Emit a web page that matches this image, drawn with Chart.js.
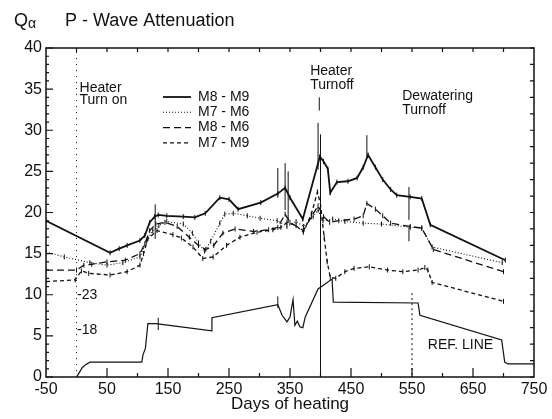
<!DOCTYPE html>
<html lang="en">
<head>
<meta charset="UTF-8">
<title>P - Wave Attenuation</title>
<script src="https://cdn.jsdelivr.net/npm/chart.js"></script>
<style>
  body { margin: 0; background: #fff; }
  #qChart { display: block; }
</style>
</head>
<body>
<canvas id="qChart" width="552" height="419"></canvas>
<script>
// [day of heating, Q alpha]
const m8m9 = [[-50,19.0],[55,15.1],[70,15.6],[83,16.0],[104,16.6],[112,17.2],[120,18.8],[128,19.5],[134,19.7],
  [148,19.6],[175,19.5],[194,19.4],[211,19.9],[235,21.8],[250,21.6],[265,20.4],[302,21.2],[330,22.3],[342,23.0],
  [350,21.8],[371,19.2],[399,26.8],[405,26.2],[412,25.3],[416,22.4],[427,23.7],[445,23.8],[460,24.2],[470,25.5],
  [478,27.0],[490,25.5],[502,24.0],[515,22.8],[525,22.1],[547,21.9],[566,21.7],[580,18.5],[703,14.2]];

const m7m6 = [[-50,15.2],[-20,14.6],[22,13.9],[50,13.6],[76,13.9],[104,14.6],[115,16.5],[125,17.8],[135,18.4],
  [148,18.9],[175,18.6],[190,17.5],[200,16.3],[210,15.3],[220,16.5],[235,18.7],[243,19.8],[257,19.9],[280,19.6],
  [301,19.3],[329,19.0],[345,18.3],[360,18.9],[372,18.3],[388,19.5],[396,20.3],[404,19.0],[420,19.2],[440,18.9],
  [470,18.7],[500,18.6],[547,18.2],[566,18.1],[583,15.8],[698,13.9]];

const m8m6 = [[-50,13.0],[0,13.0],[12,13.6],[25,13.7],[50,14.0],[80,14.2],[104,15.0],[112,16.2],[120,17.8],
  [130,18.6],[145,18.8],[165,18.3],[185,17.0],[200,16.0],[212,15.5],[225,16.0],[240,17.5],[260,18.0],[290,17.7],
  [315,17.9],[330,18.2],[342,19.8],[350,18.8],[372,17.8],[385,19.5],[396,20.8],[405,19.5],[415,18.8],[430,19.0],
  [455,19.2],[470,19.6],[476,21.1],[490,20.4],[502,19.6],[515,18.7],[547,18.3],[566,18.1],[585,15.5],[700,12.8]];

const m7m9 = [[-50,11.6],[-2,11.8],[8,12.9],[20,12.6],[55,12.4],[83,12.8],[104,13.6],[110,15.0],[117,16.8],
  [132,17.8],[158,17.3],[172,16.9],[191,15.8],[207,14.4],[224,14.6],[246,16.0],[268,17.0],[296,17.6],[322,17.9],
  [335,18.2],[345,18.8],[360,18.4],[372,17.6],[385,19.8],[395,22.5],[400,21.0],[406,17.0],[411,14.0],[416,12.1],
  [425,12.0],[440,12.8],[455,13.2],[480,13.4],[510,13.0],[535,12.8],[560,13.0],[571,13.3],[576,13.0],[583,11.5],
  [700,9.2]];

const refLine = [[0,0],[5,0.6],[9,1.1],[15,1.5],[22,1.8],[107,1.8],[109,2.7],[113,3.5],[117,6.5],[130,6.5],
  [222,5.6],[222,7.2],[330,8.8],[337,7.5],[345,6.7],[350,7.3],[355,9.4],[358,6.3],[362,6.8],[366,6.1],[371,6.0],
  [375,7.3],[396,10.7],[419,11.9],[421,9.1],[560,9.0],[563,7.5],[697,4.5],[702,1.8],[707,1.6],[750,1.6]];

// [day, low, high] scatter bars
const errorBars = [[129,16.8,21.0],[134,5.7,7.2],[330,21.8,25.4],[342,20.3,26.0],[347,18.7,25.0],
  [396,25.2,30.9],[476,26.7,29.4],[545,19.1,23.1],[545,16.5,18.2],[330,8.4,9.8]];

const xTicks = [-50, 50, 150, 250, 350, 450, 550, 650, 750];
const eventDays = [0, 400, 550];

const FONT = "'Liberation Sans', Arial, sans-serif";
const INK = '#111';

function pts(arr) { return arr.map(p => ({ x: p[0], y: p[1] })); }

function series(label, arr, width, dash, marks) {
  return {
    label: label,
    data: pts(arr),
    borderColor: INK,
    borderWidth: width,
    borderDash: dash,
    pointStyle: 'line',
    pointRotation: 90,
    pointRadius: marks ? 2.5 : 0,
    pointBorderWidth: 1,
    pointBorderColor: INK,
    tension: 0,
    fill: false,
    inLegend: marks
  };
}

// frame, inward ticks, event lines, scatter bars
const framePlugin = {
  id: 'frame',
  afterDatasetsDraw(chart) {
    const ctx = chart.ctx, a = chart.chartArea;
    const xs = chart.scales.x, ys = chart.scales.y;
    ctx.save();
    ctx.strokeStyle = INK;

    // scatter bars
    ctx.lineWidth = 1;
    errorBars.forEach(b => {
      const x = xs.getPixelForValue(b[0]);
      ctx.beginPath();
      ctx.moveTo(x, ys.getPixelForValue(b[1]));
      ctx.lineTo(x, ys.getPixelForValue(b[2]));
      ctx.stroke();
    });

    // event lines
    const ev = [
      { top: 39.5, dash: [1, 5] },
      { top: 29.5, dash: [] },
      { top: 10.2, dash: [2, 3] }
    ];
    eventDays.forEach((d, i) => {
      const x = xs.getPixelForValue(d);
      ctx.setLineDash(ev[i].dash);
      ctx.lineWidth = 1;
      ctx.beginPath();
      ctx.moveTo(x, ys.getPixelForValue(ev[i].top));
      ctx.lineTo(x, a.bottom);
      ctx.stroke();
    });
    ctx.setLineDash([]);
    // pointer under "Heater Turnoff"
    const xp = xs.getPixelForValue(398);
    ctx.beginPath();
    ctx.moveTo(xp, ys.getPixelForValue(34.0));
    ctx.lineTo(xp, ys.getPixelForValue(32.4));
    ctx.stroke();

    // box
    ctx.lineWidth = 1.5;
    ctx.strokeRect(a.left, a.top, a.right - a.left, a.bottom - a.top);

    // inward ticks
    ctx.lineWidth = 1.2;
    ctx.beginPath();
    for (let v = 0; v <= 40; v++) {
      const y = ys.getPixelForValue(v);
      const len = v % 5 === 0 ? 7 : 3;
      ctx.moveTo(a.left, y); ctx.lineTo(a.left + len, y);
      if (v % 2 === 0) { ctx.moveTo(a.right, y); ctx.lineTo(a.right - 4, y); }
    }
    for (let d = 0; d <= 700; d += 50) {
      const x = xs.getPixelForValue(d);
      if (d >= 50) {
        const len = (d - 50) % 100 === 0 ? 9 : 4;
        ctx.moveTo(x, a.bottom); ctx.lineTo(x, a.bottom - len);
      }
      ctx.moveTo(x, a.top); ctx.lineTo(x, a.top + 4);
    }
    ctx.stroke();
    ctx.restore();
  }
};

// title, notes and legend inside the plot
const notesPlugin = {
  id: 'notes',
  afterDraw(chart) {
    const ctx = chart.ctx;
    const xs = chart.scales.x, ys = chart.scales.y;
    ctx.save();
    ctx.fillStyle = INK;
    ctx.textBaseline = 'alphabetic';
    ctx.font = '18px ' + FONT;
    ctx.fillText('Q', 14, 26);
    ctx.font = '14px ' + FONT;
    ctx.fillText('α', 28, 28);
    ctx.font = '18px ' + FONT;
    ctx.fillText('P - Wave Attenuation', 65, 26);

    ctx.textBaseline = 'middle';
    const notes = [
      ['Heater', 5, 35.1], ['Turn on', 5, 33.6],
      ['Heater', 383, 37.2], ['Turnoff', 383, 35.5],
      ['Dewatering', 534, 34.2], ['Turnoff', 534, 32.5],
      ['REF. LINE', 576, 3.9],
      ['-23', 1, 10.0], ['-18', 1, 5.7]
    ];
    ctx.font = '14px ' + FONT;
    notes.forEach(n => ctx.fillText(n[0], xs.getPixelForValue(n[1]), ys.getPixelForValue(n[2])));

    // legend
    const sets = chart.data.datasets.filter(d => d.inLegend);
    sets.forEach((ds, i) => {
      const y = 97 + i * 15.3;
      ctx.strokeStyle = INK;
      ctx.lineWidth = ds.borderWidth;
      ctx.setLineDash(ds.borderDash);
      ctx.beginPath();
      ctx.moveTo(163, y); ctx.lineTo(191, y);
      ctx.stroke();
      ctx.setLineDash([]);
      ctx.fillText(ds.label, 198, y);
    });
    ctx.restore();
  }
};

new Chart(document.getElementById('qChart'), {
  type: 'line',
  data: {
    datasets: [
      series('M8 - M9', m8m9, 1.8, [], true),
      series('M7 - M6', m7m6, 1.1, [1, 2], true),
      series('M8 - M6', m8m6, 1.3, [7, 4], true),
      series('M7 - M9', m7m9, 1.3, [4, 3], true),
      series('ref', refLine, 1.2, [], false)
    ]
  },
  options: {
    responsive: false,
    animation: false,
    devicePixelRatio: 1,
    layout: { padding: { top: 48, right: 18, left: 0, bottom: 0 } },
    plugins: { legend: { display: false }, tooltip: { enabled: false } },
    scales: {
      x: {
        type: 'linear', min: -50, max: 750,
        grid: { display: false, drawTicks: false }, border: { display: false },
        afterBuildTicks: s => { s.ticks = xTicks.map(v => ({ value: v })); },
        afterFit: s => { s.height = 42; },
        ticks: { color: INK, padding: 3, maxRotation: 0, font: { size: 16, family: FONT } },
        title: { display: true, text: 'Days of heating', color: INK,
                 padding: { top: 0, bottom: 4 }, font: { size: 17, family: FONT } }
      },
      y: {
        min: 0, max: 40,
        grid: { display: false, drawTicks: false }, border: { display: false },
        afterFit: s => { s.width = 46; },
        ticks: { stepSize: 5, color: INK, padding: 4, font: { size: 16, family: FONT } }
      }
    }
  },
  plugins: [framePlugin, notesPlugin]
});
</script>
</body>
</html>
